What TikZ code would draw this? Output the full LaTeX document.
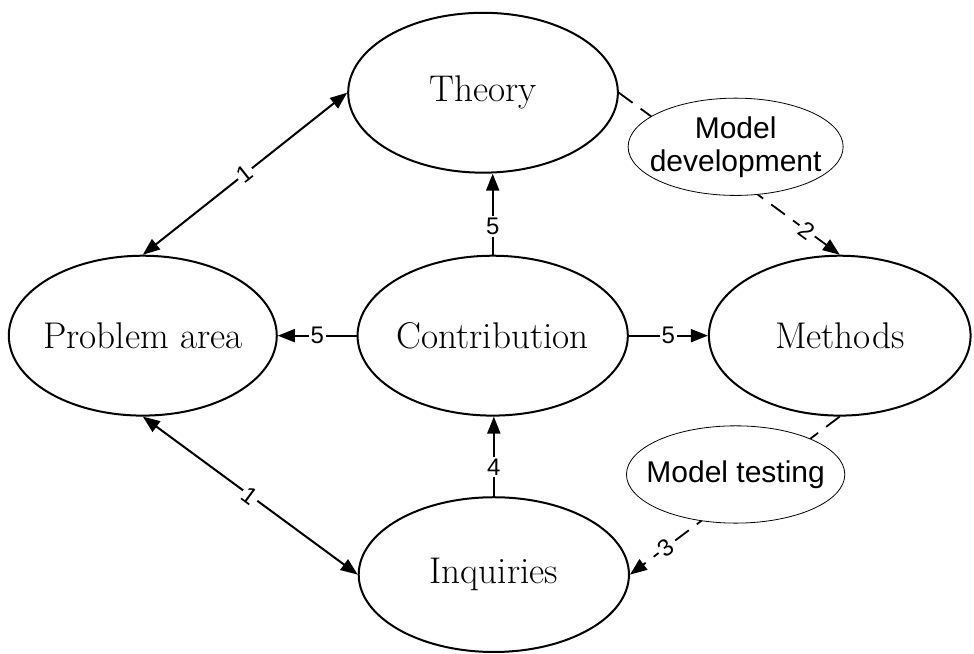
\documentclass[tikz,border=0pt]{standalone}
\usepackage{fontspec}
\newfontfamily\labelfont{Liberation Sans}
\usetikzlibrary{shapes.geometric,arrows.meta}

\begin{document}
\begin{tikzpicture}[>={Triangle[length=8.5pt,width=6.5pt]},
    concept/.style={ellipse, draw, line width=1pt, inner xsep=-8pt, inner ysep=0pt,
        minimum width=4.74cm, minimum height=2.81cm,
        font=\fontsize{18.6}{22}\selectfont},
    activity/.style={ellipse, draw, line width=0.4pt, fill=white, align=center,
        inner xsep=-6pt, inner ysep=0pt, minimum width=3.78cm, minimum height=1.71cm,
        font=\labelfont\fontsize{15}{16.5}\selectfont},
    link/.style={line width=1pt},
    loose/.style={line width=0.9pt, dash pattern=on 8.5pt off 5pt},
    num/.style={fill=white, inner sep=1pt, font=\labelfont\fontsize{12}{14}\selectfont}]
    % \draw[help lines, gray] (0, 0) grid (17, 11);
    \useasboundingbox (0, 0) rectangle (17.12, 11.49);

    \node[concept] (theory) at (8.49, 9.86) {Theory};
    \node[concept, minimum width=4.71cm] (problem) at (2.51, 5.59) {Problem area};
    \node[concept, minimum width=4.75cm] (contr) at (8.66, 5.59) {Contribution};
    \node[concept, minimum width=4.60cm] (methods) at (14.76, 5.59) {Methods};
    \node[concept, minimum width=4.75cm, minimum height=2.72cm] (inq) at (8.68, 1.39) {Inquiries};

    \draw[link, <->] (problem.north) -- node[num, sloped] {1} (theory.west);
    \draw[link, <->] (problem.south) -- node[num, sloped] {1} (inq.west);
    \draw[link, ->] (contr.west) -- node[num] {5} (problem.east);
    \draw[link, ->] (contr.east) -- node[num] {5} (methods.west);
    \draw[link, ->] (contr.north) -- node[num, pos=0.35] {5} (contr.north |- theory.south);
    \draw[link, ->] (inq.north) -- node[num, pos=0.37] {4} (inq.north |- contr.south);

    \draw[loose, ->] (theory.east) -- node[num, sloped, pos=0.85] {2} (methods.north);
    \draw[loose, ->] (methods.south) -- node[num, sloped, pos=0.83] {3} (inq.east);

    \node[activity] (develop) at (12.93, 8.91) {Model\\development};
    \node[activity] (testing) at (12.93, 3.15) {Model testing};
\end{tikzpicture}
\end{document}
